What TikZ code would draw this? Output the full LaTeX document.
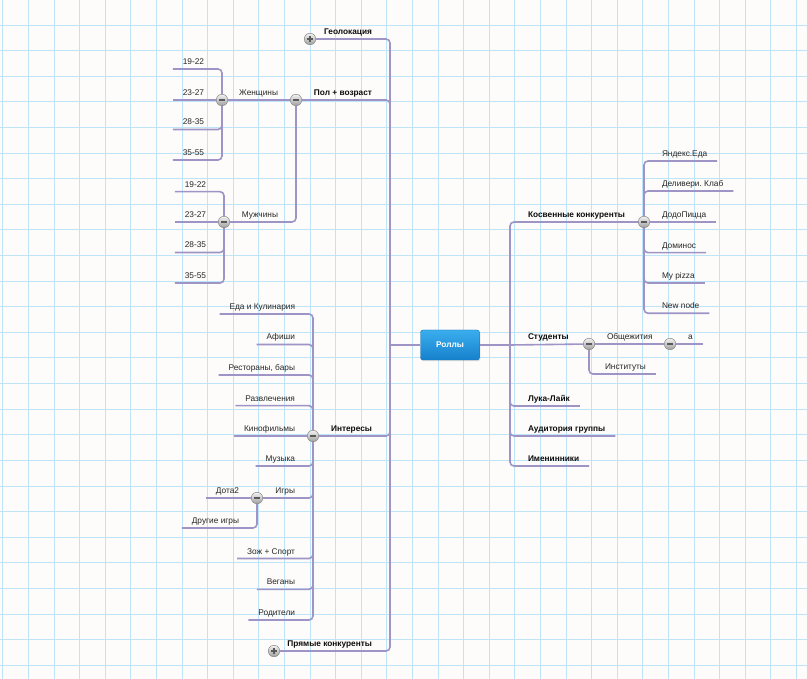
\documentclass[tikz,border=0pt]{standalone}
\usepackage{fontspec}
\setmainfont{Liberation Sans}
\usetikzlibrary{backgrounds, shadows}
\definecolor{paper}{RGB}{253,252,250}
\definecolor{gridblue}{RGB}{192,228,247}
\definecolor{linkc}{RGB}{158,148,198}
\definecolor{rootTop}{RGB}{58,174,238}
\definecolor{rootBot}{RGB}{22,128,204}
\definecolor{rootEdge}{RGB}{20,110,176}

\begin{document}
\begin{tikzpicture}[x=1pt, y=-1pt,
    txt/.style    ={inner xsep=10pt, inner ysep=4.5pt, outer sep=0pt, text depth=0pt,
                    font=\fontsize{8.3}{10}\selectfont, text=black!85},
    topic/.style  ={txt, font=\fontsize{8.3}{10}\selectfont\bfseries, text=black!95},
    lleaf/.style  ={txt, anchor=south east},
    rleaf/.style  ={txt, anchor=south west},
    ltopic/.style ={topic, anchor=south east},
    rtopic/.style ={topic, anchor=south west},
    toggle/.style ={circle, minimum size=11.5pt, inner sep=0pt, outer sep=0pt,
                    draw=black!50, top color=black!5, bottom color=black!38},
    togminus/.style={toggle, path picture={
        \draw[line width=1.2pt, black!65]
            ([xshift=-2.6pt]path picture bounding box.center) --
            ([xshift=2.6pt]path picture bounding box.center);}},
    togplus/.style ={toggle, path picture={
        \draw[line width=1.1pt, black!65]
            ([xshift=-2.6pt]path picture bounding box.center) --
            ([xshift=2.6pt]path picture bounding box.center)
            ([yshift=-2.6pt]path picture bounding box.center) --
            ([yshift=2.6pt]path picture bounding box.center);}},
    rootbox/.style={draw=rootEdge, rounded corners=2.5pt, top color=rootTop, bottom color=rootBot,
                    minimum width=59pt, minimum height=30pt, inner sep=0pt, text=white,
                    font=\fontsize{8.3}{10}\selectfont\bfseries,
                    drop shadow={opacity=0.25, shadow xshift=0.8pt, shadow yshift=-1.2pt}},
    link/.style   ={draw=linkc, line width=1.6pt, rounded corners=4pt}
]
\useasboundingbox (0,0) rectangle (807,679);

%% ── Paper + grid ─────────────────────────────────────────────────
\begin{scope}[on background layer]
    \fill[paper] (0,0) rectangle (807,679);
    \draw[gridblue, line width=0.6pt, step=25.6pt, shift={(28.3,25)}]
        (-28.3,-25) grid (778.7,654);
\end{scope}

%% ── Central topic ────────────────────────────────────────────────
\node[rootbox] (root) at (450,345) {Роллы};
\coordinate (lhub) at (390,345);
\coordinate (rhub) at (510,345);

%% ── Left: Геолокация, Пол + возраст ──────────────────────────────
\node[ltopic] (geoT) at (382,39) {Геолокация};
\node[togplus] (geoC) at (310,39) {};
\node[ltopic] (polT) at (382,100) {Пол + возраст};
\node[togminus] (polC) at (296,100) {};

\node[lleaf] (womT) at (288,100) {Женщины};
\node[togminus] (womC) at (222,100) {};
\node[lleaf] (w19) at (214,69)    {19-22};
\node[lleaf] (w23) at (214,100)   {23-27};
\node[lleaf] (w28) at (214,129.5) {28-35};
\node[lleaf] (w35) at (214,160)   {35-55};

\node[lleaf] (menT) at (288,222) {Мужчины};
\node[togminus] (menC) at (224,222) {};
\node[lleaf] (m19) at (216,191.7) {19-22};
\node[lleaf] (m23) at (216,222)   {23-27};
\node[lleaf] (m28) at (216,252.5) {28-35};
\node[lleaf] (m35) at (216,283)   {35-55};

%% ── Left: Интересы ───────────────────────────────────────────────
\node[ltopic] (intT) at (382,436) {Интересы};
\node[togminus] (intC) at (313,436) {};
\node[lleaf] (eda)  at (305,314)   {Еда и Кулинария};
\node[lleaf] (afi)  at (305,344.5) {Афиши};
\node[lleaf] (rest) at (305,375)   {Рестораны, бары};
\node[lleaf] (razv) at (305,405.7) {Развлечения};
\node[lleaf] (kino) at (305,436)   {Кинофильмы};
\node[lleaf] (muz)  at (305,466)   {Музыка};
\node[lleaf] (gamT) at (305,498)   {Игры};
\node[togminus] (gamC) at (257,498) {};
\node[lleaf] (dota) at (249,498)   {Дота2};
\node[lleaf] (othr) at (249,528)   {Другие игры};
\node[lleaf] (zoj)  at (305,558.5) {Зож + Спорт};
\node[lleaf] (veg)  at (305,589.3) {Веганы};
\node[lleaf] (rod)  at (305,620)   {Родители};

\node[ltopic] (prT) at (382,651) {Прямые конкуренты};
\node[togplus] (prC) at (274,651) {};

%% ── Right: Косвенные конкуренты ──────────────────────────────────
\node[rtopic] (kosvT) at (518,222) {Косвенные конкуренты};
\node[togminus] (kosvC) at (644,222) {};
\node[rleaf] (yan)   at (652,161)   {Яндекс.Еда};
\node[rleaf] (deliv) at (652,191)   {Деливери.\ Клаб};
\node[rleaf] (dodo)  at (652,222)   {ДодоПицца};
\node[rleaf] (domi)  at (652,252.7) {Доминос};
\node[rleaf] (mypz)  at (652,283)   {My pizza};
\node[rleaf] (newn)  at (652,313.3) {New node};

%% ── Right: Студенты and the rest ─────────────────────────────────
\node[rtopic] (studT) at (518,344) {Студенты};
\node[togminus] (studC) at (589,344) {};
\node[rleaf] (obshT) at (597,344) {Общежития};
\node[togminus] (obshC) at (670,344) {};
\node[rleaf] (aa)   at (678,344) {a};
\node[rleaf] (inst) at (595,374) {Институты};

\node[rtopic] (luka) at (518,406) {Лука-Лайк};
\node[rtopic] (aud)  at (518,436) {Аудитория группы};
\node[rtopic] (imen) at (518,466) {Именинники};

%% ── Branch lines ─────────────────────────────────────────────────
\begin{scope}[on background layer]
    \draw[link] (root.west) -- (lhub);
    \draw[link] (root.east) -- (rhub);

    % left trunk
    \draw[link] (geoC) -| (lhub);
    \draw[link] (polC) -| (lhub);
    \draw[link] (intC) -| (lhub);
    \draw[link] (prC)  -| (lhub);

    % Пол + возраст
    \draw[link] (womC) -- (polC);
    \draw[link] (menC) -| (polC);
    \draw[link] (w19.south west) -| (womC);
    \draw[link] (w23.south west) -- (womC);
    \draw[link] (w28.south west) -| (womC);
    \draw[link] (w35.south west) -| (womC);
    \draw[link] (m19.south west) -| (menC);
    \draw[link] (m23.south west) -- (menC);
    \draw[link] (m28.south west) -| (menC);
    \draw[link] (m35.south west) -| (menC);

    % Интересы
    \draw[link] (eda.south west)  -| (intC);
    \draw[link] (afi.south west)  -| (intC);
    \draw[link] (rest.south west) -| (intC);
    \draw[link] (razv.south west) -| (intC);
    \draw[link] (kino.south west) -- (intC);
    \draw[link] (muz.south west)  -| (intC);
    \draw[link] (gamC) -| (intC);
    \draw[link] (zoj.south west)  -| (intC);
    \draw[link] (veg.south west)  -| (intC);
    \draw[link] (rod.south west)  -| (intC);
    \draw[link] (dota.south west) -- (gamC);
    \draw[link] (othr.south west) -| (gamC);

    % right trunk
    \draw[link] (rhub) |- (kosvC);
    \draw[link] (rhub) -- (studC);
    \draw[link] (rhub) |- (luka.south east);
    \draw[link] (rhub) |- (aud.south east);
    \draw[link] (rhub) |- (imen.south east);

    % Косвенные конкуренты
    \draw[link] (kosvC) |- (yan.south east);
    \draw[link] (kosvC) |- (deliv.south east);
    \draw[link] (kosvC) -- (dodo.south east);
    \draw[link] (kosvC) |- (domi.south east);
    \draw[link] (kosvC) |- (mypz.south east);
    \draw[link] (kosvC) |- (newn.south east);

    % Студенты
    \draw[link] (studC) -- (obshC);
    \draw[link] (obshC) -- (aa.south east);
    \draw[link] (studC) |- (inst.south east);
\end{scope}

\end{tikzpicture}
\end{document}
